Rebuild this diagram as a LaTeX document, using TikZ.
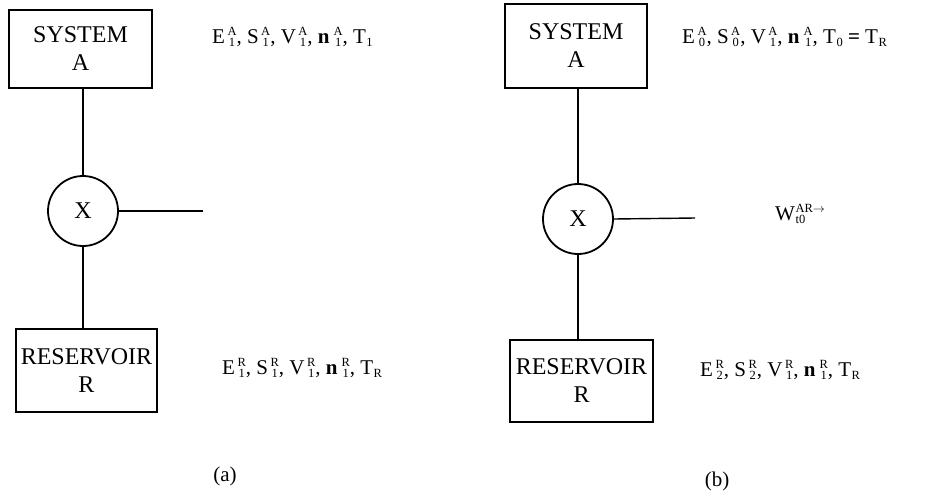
\documentclass[tikz,border=0pt]{standalone}
\usepackage{fontspec}
\setmainfont{Liberation Serif}
\newcommand\scripts{\fontsize{12.5}{13}\selectfont}
% stacked superscript over subscript
\newcommand\QS[2]{{\scripts\ooalign{\hfil\raisebox{8pt}{#1}\hfil\cr\hfil\raisebox{-3pt}{#2}\hfil\cr}}}
\newcommand\QV[3]{#1\kern2.5pt\QS{#2}{#3}}
\newcommand\QB[3]{\textbf{#1}\kern4pt\QS{#2}{#3}}
\newcommand\QT[2]{#1\kern0.5pt{\scripts\raisebox{-3pt}{#2}}}
\begin{document}
\begin{tikzpicture}[x=1pt,y=-1pt,
  boxst/.style={draw,line width=2pt,inner sep=0pt,align=center,font=\fontsize{24}{28}\selectfont},
  circst/.style={draw,circle,line width=1.8pt,minimum size=70pt,inner sep=0pt,font=\fontsize{24}{28}\selectfont},
  linkst/.style={line width=1.4pt},
  labst/.style={anchor=west,inner sep=0pt,font=\fontsize{21}{26}\selectfont},
  capst/.style={inner sep=0pt,font=\fontsize{21}{26}\selectfont}]
\useasboundingbox (0,0) rectangle (941,498);
% (a)
\node[boxst,minimum width=143pt,minimum height=78pt] (sysA) at (80.5,49) {SYSTEM\\A};
\node[circst] (xA) at (83,211) {X};
\node[boxst,minimum width=141pt,minimum height=83pt] (resA) at (86.5,370.5) {RESERVOIR\\R};
\coordinate (wA) at (203,211);
\draw[linkst] (xA.north) -- (xA.north |- sysA.south);
\draw[linkst] (xA.south) -- (xA.south |- resA.north);
\draw[linkst] (xA.east) -- (wA);
\node[labst] (labA1) at (212,37) {\QV{E}{A}{1}, \QV{S}{A}{1}, \QV{V}{A}{1}, \QB{n}{A}{1}, \QT{T}{1}};
\node[labst] (labA2) at (222,368) {\QV{E}{R}{1}, \QV{S}{R}{1}, \QV{V}{R}{1}, \QB{n}{R}{1}, \QT{T}{R}};
\node[capst] (capA) at (225,476) {(a)};
% (b)
\node[boxst,minimum width=142pt,minimum height=84pt] (sysB) at (576,46) {SYSTEM\\A};
\node[circst] (xB) at (578,219) {X};
\node[boxst,minimum width=143pt,minimum height=82pt] (resB) at (581.5,381) {RESERVOIR\\R};
\coordinate (wB) at (695,218);
\draw[linkst] (xB.north) -- (xB.north |- sysB.south);
\draw[linkst] (xB.south) -- (xB.south |- resB.north);
\draw[linkst] (xB.east) -- (wB);
\node[labst] (labB1) at (682,37) {\QV{E}{A}{0}, \QV{S}{A}{0}, \QV{V}{A}{1}, \QB{n}{A}{1}, \QT{T}{0} \textbf{=} \QT{T}{R}};
\node[labst] (labW) at (775,214) {W\kern0.5pt{\scripts\ooalign{\raisebox{8pt}{AR$\rightarrow$}\hfil\cr\raisebox{-3pt}{t0}\hfil\cr}}};
\node[labst] (labB2) at (700,370) {\QV{E}{R}{2}, \QV{S}{R}{2}, \QV{V}{R}{1}, \QB{n}{R}{1}, \QT{T}{R}};
\node[capst] (capB) at (717,481) {(b)};
\end{tikzpicture}
\end{document}
